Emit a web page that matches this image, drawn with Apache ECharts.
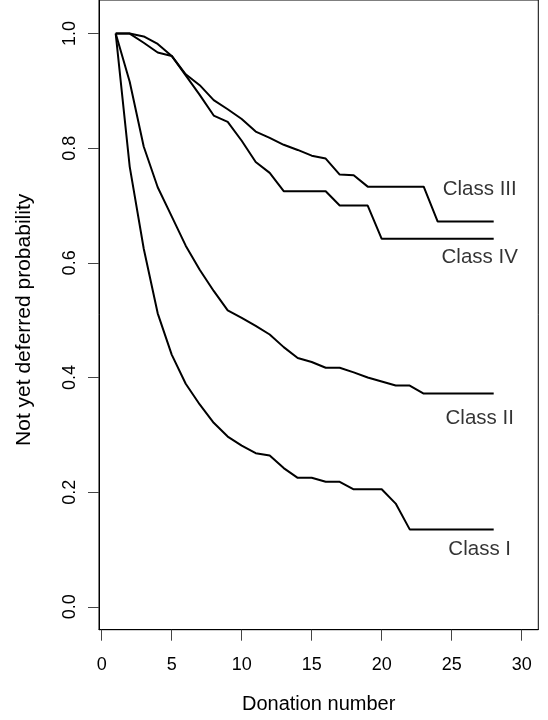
<!DOCTYPE html>
<html>
<head>
<meta charset="utf-8">
<script src="https://cdn.jsdelivr.net/npm/echarts@6/dist/echarts.min.js"></script>
<style>
  html, body { margin: 0; padding: 0; background: #fff; }
  #chart { width: 548px; height: 720px; }
</style>
</head>
<body>
<div id="chart"></div>
<script>
// Kaplan–Meier style curves: probability of not yet being deferred, by donation number
const donation = [1, 2, 3, 4, 5, 6, 7, 8, 9, 10, 11, 12, 13, 14, 15, 16, 17, 18, 19, 20, 21, 22, 23, 24, 25, 26, 27, 28];
const classNames = ['Class I', 'Class II', 'Class III', 'Class IV'];
const classI   = [1.000, 0.768, 0.625, 0.512, 0.440, 0.389, 0.353, 0.321, 0.297, 0.281, 0.268, 0.264, 0.242, 0.225, 0.225, 0.218, 0.218, 0.205, 0.205, 0.205, 0.180, 0.135, 0.135, 0.135, 0.135, 0.135, 0.135, 0.135];
const classII  = [1.000, 0.916, 0.803, 0.732, 0.681, 0.630, 0.588, 0.551, 0.517, 0.504, 0.490, 0.475, 0.453, 0.434, 0.427, 0.417, 0.417, 0.409, 0.400, 0.393, 0.386, 0.386, 0.372, 0.372, 0.372, 0.372, 0.372, 0.372];
const classIII = [1.000, 1.000, 0.995, 0.982, 0.961, 0.929, 0.910, 0.884, 0.868, 0.851, 0.829, 0.818, 0.806, 0.797, 0.787, 0.782, 0.754, 0.753, 0.733, 0.733, 0.733, 0.733, 0.733, 0.672, 0.672, 0.672, 0.672, 0.672];
const classIV  = [1.000, 1.000, 0.984, 0.967, 0.961, 0.927, 0.893, 0.857, 0.846, 0.813, 0.776, 0.757, 0.725, 0.725, 0.725, 0.725, 0.700, 0.700, 0.700, 0.642, 0.642, 0.642, 0.642, 0.642, 0.642, 0.642, 0.642, 0.642];
const xTicks = [0, 5, 10, 15, 20, 25, 30];
const yTicks = [0, 0.2, 0.4, 0.6, 0.8, 1.0];

const FONT = '"Liberation Sans", Arial, Helvetica, sans-serif';
const allSeries = [classI, classII, classIII, classIV];

// plot frame: 575 px per unit of probability, 14 px per donation
const GRID = { left: 99, right: 9.7, top: -2, bottom: 90.3 };
const PX_PER_Y = 575, PX_PER_X = 14;
const Y0_PX = 606.7, X0_PX = 101.7;
const yMax = (Y0_PX - GRID.top) / PX_PER_Y;
const yMin = (Y0_PX - (720 - GRID.bottom)) / PX_PER_Y;
const xMin = (GRID.left - X0_PX) / PX_PER_X;
const xMax = (548 - GRID.right - X0_PX) / PX_PER_X;

// where each class name sits, in data units
const labelSpots = [[27, 0.100], [27, 0.329], [27, 0.728], [27, 0.610]];

const lineSeries = allSeries.map((vals, i) => ({
  type: 'line',
  name: classNames[i],
  data: donation.map((d, k) => [d, vals[k]]),
  symbol: 'none',
  lineStyle: { color: '#000', width: 2 },
  silent: true,
  z: 3
}));

const labelSeries = {
  type: 'scatter',
  symbolSize: 0,
  silent: true,
  data: labelSpots.map((p, i) => ({ value: p, name: classNames[i] })),
  label: {
    show: true,
    position: 'inside',
    formatter: p => p.name,
    color: '#000',
    fontFamily: FONT,
    fontSize: 20.5
  }
};

const chart = echarts.init(document.getElementById('chart'), null, { renderer: 'canvas' });
chart.setOption({
  animation: false,
  backgroundColor: '#fff',
  grid: Object.assign({
    show: true, borderColor: '#000', borderWidth: 1, backgroundColor: 'transparent'
  }, GRID),
  xAxis: {
    type: 'value',
    min: xMin, max: xMax,
    name: 'Donation number',
    nameLocation: 'middle',
    nameGap: 65,
    nameTextStyle: { fontFamily: FONT, fontSize: 20, color: '#000' },
    axisLine: { show: true, onZero: false, lineStyle: { color: '#000', width: 1 } },
    axisTick: { show: true, length: 11, customValues: xTicks, lineStyle: { color: '#444' } },
    axisLabel: {
      customValues: xTicks, margin: 26,
      fontFamily: FONT, fontSize: 18, color: '#000'
    },
    splitLine: { show: false }
  },
  yAxis: {
    type: 'value',
    min: yMin, max: yMax,
    name: 'Not yet deferred probability',
    nameLocation: 'middle',
    nameGap: 64,
    nameTextStyle: { fontFamily: FONT, fontSize: 21, color: '#000', padding: [0, 10, 0, 0] },
    axisLine: { show: true, onZero: false, lineStyle: { color: '#000', width: 1 } },
    axisTick: { show: true, length: 11, customValues: yTicks, lineStyle: { color: '#444' } },
    axisLabel: {
      customValues: yTicks, margin: 20, rotate: 90,
      formatter: v => v.toFixed(1),
      fontFamily: FONT, fontSize: 18, color: '#000'
    },
    splitLine: { show: false }
  },
  series: [...lineSeries, labelSeries]
});
</script>
</body>
</html>
